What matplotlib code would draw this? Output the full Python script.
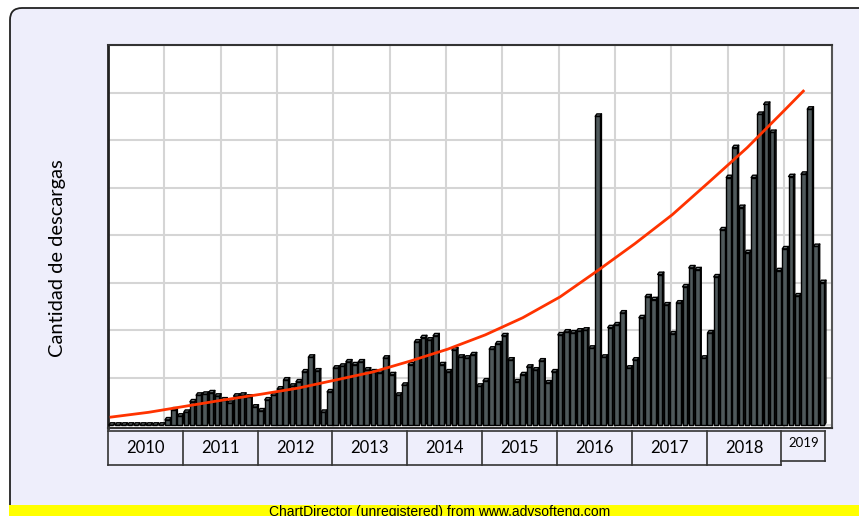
import numpy as np
import matplotlib
matplotlib.use("Agg")
import matplotlib.pyplot as plt
import matplotlib.transforms as mtransforms
from matplotlib.collections import PolyCollection
from matplotlib.patches import FancyBboxPatch, Rectangle


# Monthly downloads, Jan 2010 .. Jul 2019
years = ["2010", "2011", "2012", "2013", "2014", "2015", "2016", "2017", "2018", "2019"]
d2010 = [0, 0, 0, 0, 0, 0, 0, 0, 0, 11, 32, 19]
d2011 = [27, 49, 63, 65, 68, 61, 53, 46, 61, 63, 59, 38]
d2012 = [30, 53, 63, 76, 95, 82, 91, 112, 143, 114, 27, 70]
d2013 = [120, 124, 133, 127, 133, 116, 112, 110, 141, 106, 63, 84]
d2014 = [127, 175, 184, 179, 188, 127, 112, 158, 143, 141, 148, 82]
d2015 = [93, 160, 171, 188, 137, 91, 106, 122, 116, 135, 89, 112]
d2016 = [190, 196, 194, 198, 200, 162, 650, 143, 205, 211, 236, 120]
d2017 = [137, 226, 270, 264, 317, 253, 192, 257, 291, 331, 327, 141]
d2018 = [194, 312, 411, 521, 584, 458, 363, 521, 654, 675, 616, 325]
d2019 = [371, 523, 272, 528, 665, 376, 300]

# Trend line (month index, value)
trend_month = [0, 6, 12, 18, 24, 30, 36, 42, 48, 54, 60, 66, 72, 78, 84, 90, 96, 102, 108, 111]
trend_value = [17, 27, 40, 53, 65, 78, 95, 112, 135, 160, 190, 226, 270, 325, 382, 443, 513, 584, 663, 703]

monthly = [d2010, d2011, d2012, d2013, d2014, d2015, d2016, d2017, d2018, d2019]
values = [v for year in monthly for v in year]

W, H = 859, 516
fig = plt.figure(figsize=(W / 100, H / 100), dpi=100)
fig.patch.set_facecolor("white")
pix = mtransforms.IdentityTransform()

# Lavender panel with rounded top-left corner and the yellow footer band
panel = FancyBboxPatch((10, -30), 900, (H - 8) + 30,
                       boxstyle="round,pad=0,rounding_size=12",
                       transform=pix, facecolor="#eeeefb", edgecolor="#222222",
                       lw=1.3, zorder=-10)
fig.patches.append(panel)
fig.patches.append(Rectangle((9, 0), 900, 11, transform=pix,
                             facecolor="#ffff00", edgecolor="none", zorder=-9))
fig.text(440 / W, 1 - 505 / H, "ChartDirector (unregistered) from www.advsofteng.com",
         ha="center", va="top", fontsize=10, family="Liberation Sans", color="black")

ax = fig.add_axes([108 / W, 1 - 428 / H, (832 - 108) / W, (428 - 45) / H])
ax.set_facecolor("white")
ax.set_xlim(-0.5, 115.6)
ax.set_ylim(-6, 800)

# Grid
ax.set_yticks(np.arange(0, 801, 100))
ax.set_xticks(-0.5 + 9.035 * np.arange(13))
ax.grid(color="#d5d5d5", lw=1.5)
ax.set_axisbelow(True)
ax.tick_params(length=0, labelleft=False, labelbottom=False)
for side, col, lw in [("left", "#222222", 2.0), ("top", "#333333", 1.5),
                      ("right", "#555555", 1.5), ("bottom", "#333333", 1.5)]:
    ax.spines[side].set_color(col)
    ax.spines[side].set_linewidth(lw)

# 3D-style bars: side, top and front face of each bar
w, dx, dy = 0.74, 0.26, 5
front, top, sidec = "#4f595b", "#7b8587", "#363d3f"
polys, colors = [], []
for i, v in enumerate(values):
    x0, x1 = i - w / 2, i + w / 2
    polys.append([(x1, 0), (x1 + dx, dy), (x1 + dx, v + dy), (x1, v)])
    colors.append(sidec)
    polys.append([(x0, v), (x0 + dx, v + dy), (x1 + dx, v + dy), (x1, v)])
    colors.append(top)
    polys.append([(x0, 0), (x0, v), (x1, v), (x1, 0)])
    colors.append(front)
ax.add_collection(PolyCollection(polys, facecolors=colors, edgecolors="black",
                                 linewidths=1.0, zorder=3))

# Trend line
ax.plot(trend_month, trend_value, color="#ff3300", lw=2.0, zorder=5)

# Year label boxes under the plot
trans = mtransforms.blended_transform_factory(ax.transData, pix)
box_top, box_bot, box_bot_last = H - 431, H - 465, H - 461
n = len(values)
edges = [12 * k - 0.5 for k in range(len(years))] + [n - 0.5]
line_kw = dict(color="#333333", lw=1.2, transform=trans, clip_on=False)
ax.plot([edges[0], edges[-1]], [box_top, box_top], **line_kw)
ax.plot([edges[0], edges[-2]], [box_bot, box_bot], **line_kw)
ax.plot([edges[-2], edges[-1]], [box_bot_last, box_bot_last], **line_kw)
for k, e in enumerate(edges):
    bottom = box_bot_last if k == len(edges) - 1 else box_bot
    ax.plot([e, e], [box_top, bottom], **line_kw)
for k, year in enumerate(years):
    xc = (edges[k] + edges[k + 1]) / 2
    if k == len(years) - 1:
        ax.text(xc, H - 443, year, transform=trans, ha="center", va="center",
                fontsize=9.5, family="Lato")
    else:
        ax.text(xc, H - 448, year, transform=trans, ha="center", va="center",
                fontsize=12, family="Lato")

fig.text(57 / W, 1 - 258 / H, "Cantidad de descargas", rotation=90,
         ha="center", va="center", fontsize=14.5, family="Lato")

fig.savefig("out.png", dpi=100)
